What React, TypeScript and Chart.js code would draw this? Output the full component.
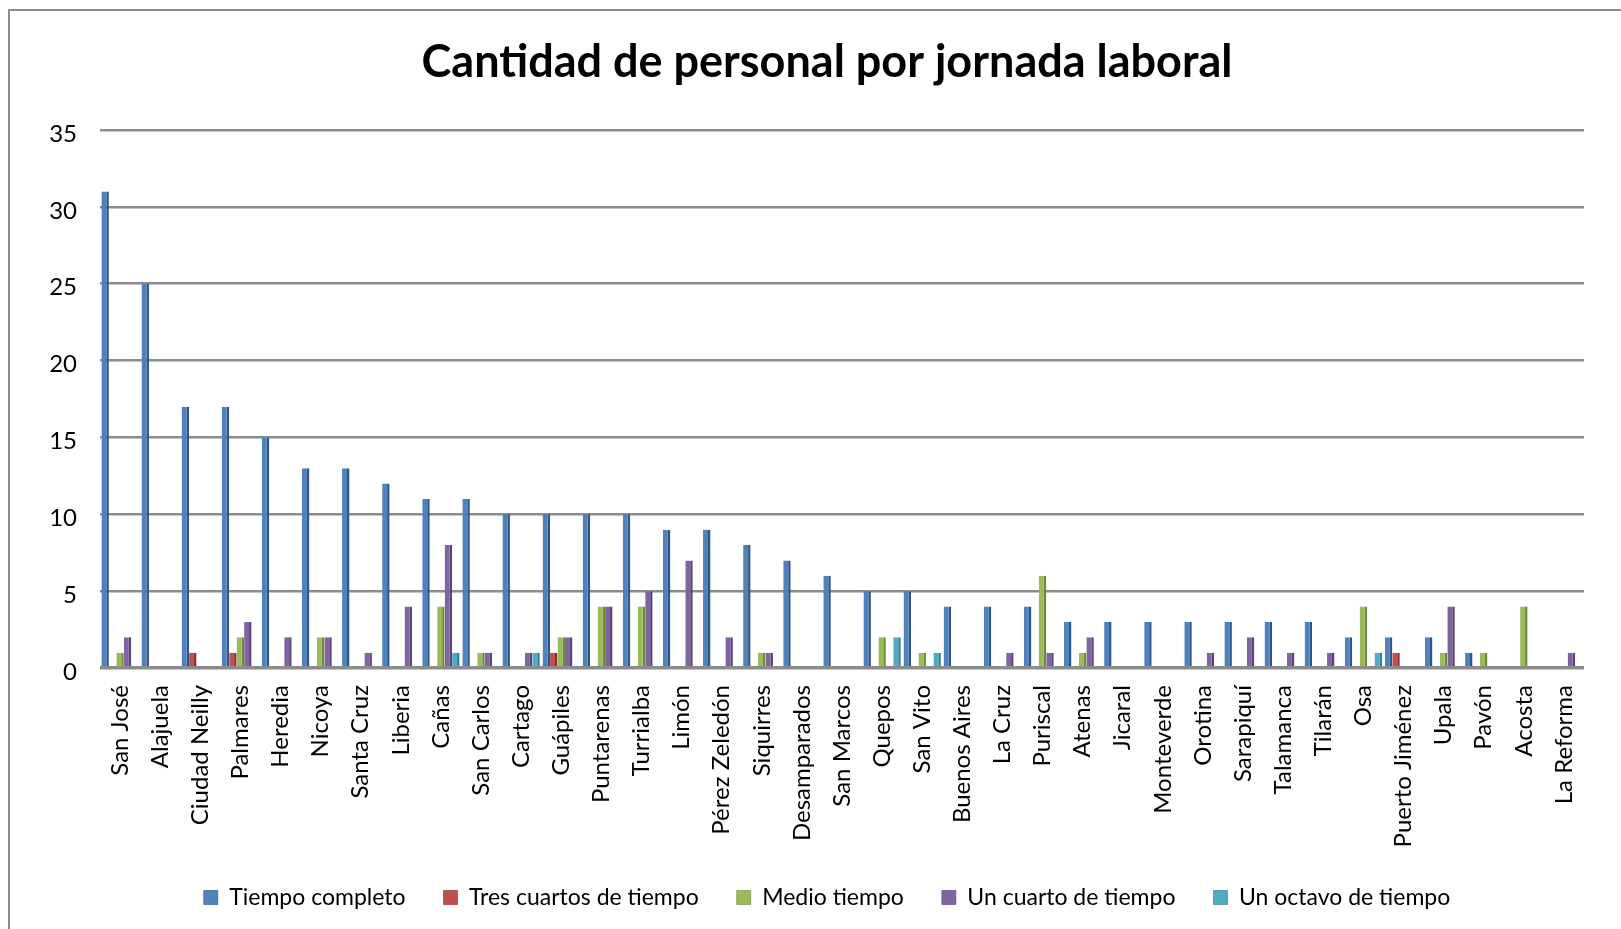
import React, { useEffect, useRef } from "react";
import { Chart, registerables } from "chart.js";

Chart.register(...registerables);

const titleText = "Cantidad de personal por jornada laboral";

const categories = [
  "San José", "Alajuela", "Ciudad Neilly", "Palmares", "Heredia", "Nicoya",
  "Santa Cruz", "Liberia", "Cañas", "San Carlos", "Cartago", "Guápiles",
  "Puntarenas", "Turrialba", "Limón", "Pérez Zeledón", "Siquirres",
  "Desamparados", "San Marcos", "Quepos", "San Vito", "Buenos Aires",
  "La Cruz", "Puriscal", "Atenas", "Jicaral", "Monteverde", "Orotina",
  "Sarapiquí", "Talamanca", "Tilarán", "Osa", "Puerto Jiménez", "Upala",
  "Pavón", "Acosta", "La Reforma",
];

const seriesNames = [
  "Tiempo completo",
  "Tres cuartos de tiempo",
  "Medio tiempo",
  "Un cuarto de tiempo",
  "Un octavo de tiempo",
];

const tiempoCompleto = [31, 25, 17, 17, 15, 13, 13, 12, 11, 11, 10, 10, 10, 10, 9, 9, 8, 7, 6, 5, 5, 4, 4, 4, 3, 3, 3, 3, 3, 3, 3, 2, 2, 2, 1, 0, 0];
const tresCuartos = [0, 0, 1, 1, 0, 0, 0, 0, 0, 0, 0, 1, 0, 0, 0, 0, 0, 0, 0, 0, 0, 0, 0, 0, 0, 0, 0, 0, 0, 0, 0, 0, 1, 0, 0, 0, 0];
const medioTiempo = [1, 0, 0, 2, 0, 2, 0, 0, 4, 1, 0, 2, 4, 4, 0, 0, 1, 0, 0, 2, 1, 0, 0, 6, 1, 0, 0, 0, 0, 0, 0, 4, 0, 1, 1, 4, 0];
const unCuarto = [2, 0, 0, 3, 2, 2, 1, 4, 8, 1, 1, 2, 4, 5, 7, 2, 1, 0, 0, 0, 0, 0, 1, 1, 2, 0, 0, 1, 2, 1, 1, 0, 0, 4, 0, 0, 1];
const unOctavo = [0, 0, 0, 0, 0, 0, 0, 0, 1, 0, 1, 0, 0, 0, 0, 0, 0, 0, 0, 2, 1, 0, 0, 0, 0, 0, 0, 0, 0, 0, 0, 1, 0, 0, 0, 0, 0];

const yMin = 0;
const yMax = 35;
const yStep = 5;

const fills = ["#4F81BD", "#C0504D", "#9BBB59", "#8064A2", "#4BACC6"];
const sides = ["#2F5587", "#8C302D", "#6E8A36", "#5A4377", "#2E7F95"];

const FONT = "Lato, 'Open Sans', sans-serif";

const noClip = (scale: any) => {
  scale._computeLabelArea = () => undefined;
};

export default function App() {
  const ref = useRef<HTMLCanvasElement>(null);

  useEffect(() => {
    const values = [tiempoCompleto, tresCuartos, medioTiempo, unCuarto, unOctavo];
    const chart = new Chart(ref.current as HTMLCanvasElement, {
      type: "bar",
      data: {
        labels: categories,
        datasets: seriesNames.map((name, i) => ({
          label: name,
          data: values[i],
          backgroundColor: fills[i],
          borderColor: sides[i],
          borderWidth: { top: 0, left: 0, bottom: 0, right: 2.5 },
          borderSkipped: false,
          categoryPercentage: 0.93,
          barPercentage: 1.0,
        })),
      },
      options: {
        responsive: false,
        animation: false,
        layout: { padding: { top: 10, left: 70, right: 37, bottom: 10 } },
        plugins: {
          title: {
            display: true,
            text: titleText,
            color: "#000",
            font: { family: FONT, size: 45, weight: "bold" },
            padding: { top: 25, bottom: 41 },
          },
          legend: {
            position: "bottom",
            labels: {
              color: "#000",
              font: { family: FONT, size: 23 },
              boxWidth: 14,
              boxHeight: 14,
              padding: 38,
            },
          },
          tooltip: { enabled: false },
        },
        scales: {
          x: {
            grid: { display: false, drawTicks: false },
            border: { display: false },
            ticks: {
              color: "#000",
              font: { family: FONT, size: 24 },
              maxRotation: 90,
              minRotation: 90,
              padding: 17,
              autoSkip: false,
            },
            afterFit: (scale: any) => {
              scale.height = 180;
              noClip(scale);
            },
          },
          y: {
            min: yMin,
            max: yMax,
            ticks: {
              stepSize: yStep,
              color: "#000",
              font: { family: FONT, size: 24 },
              padding: 23,
              labelOffset: 4,
            },
            grid: {
              color: "#8C8C8C",
              lineWidth: (ctx: any) => (ctx.tick && ctx.tick.value === 0 ? 3.5 : 2.5),
              drawTicks: false,
            },
            border: { display: false },
            afterFit: (scale: any) => {
              scale.width = 30;
              noClip(scale);
            },
          },
        },
      },
    });
    return () => chart.destroy();
  }, []);

  return (
    <div
      style={{
        position: "fixed",
        left: 0,
        top: 0,
        width: 1621,
        height: 929,
        background: "#fff",
        overflow: "hidden",
      }}
    >
      <div
        style={{
          position: "absolute",
          left: 8,
          top: 9,
          width: 1700,
          height: 1000,
          border: "2px solid #8C8C8C",
        }}
      />
      <canvas
        ref={ref}
        width={1621}
        height={929}
        style={{ position: "absolute", left: 0, top: 0 }}
      />
    </div>
  );
}
